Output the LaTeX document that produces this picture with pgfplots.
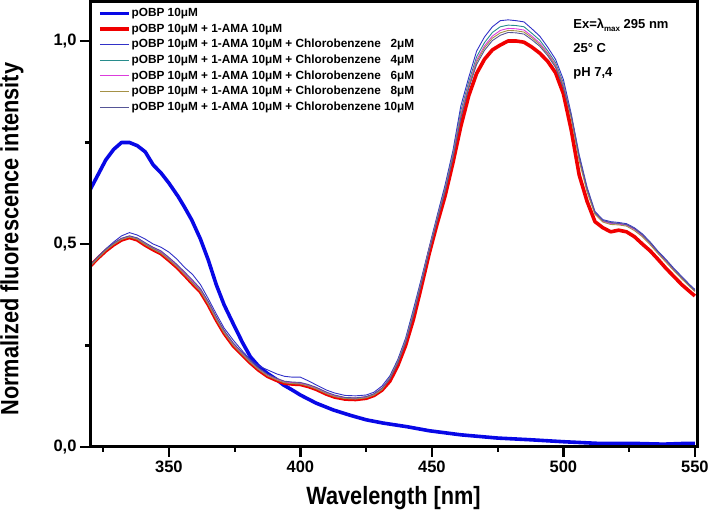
\documentclass[border=0pt]{standalone}
\usepackage{fontspec}
\setmainfont{Liberation Sans}
\usepackage{graphicx}
\usepackage{pgfplots}
\pgfplotsset{compat=1.18}
\usepackage{pgfplotstable}

\definecolor{cPobp}{RGB}{8,8,230}
\definecolor{cAma}{RGB}{240,0,0}
\definecolor{cTwo}{RGB}{50,50,200}
\definecolor{cFour}{RGB}{40,140,140}
\definecolor{cSix}{RGB}{220,60,220}
\definecolor{cEight}{RGB}{165,145,70}
\definecolor{cTen}{RGB}{85,85,150}

% pOBP 10uM alone
\pgfplotstableread{
x y
320 0.633
323 0.670
326 0.707
329 0.733
332 0.750
335 0.750
338 0.742
341 0.727
344 0.695
347 0.675
350 0.650
353.5 0.617
356 0.590
358.7 0.559
362 0.512
365 0.460
368 0.400
371 0.350
374.5 0.303
378 0.257
381 0.222
384 0.200
387.5 0.181
391 0.166
393.5 0.153
397 0.140
400 0.128
406 0.108
412.6 0.091
419 0.078
425 0.067
431.4 0.059
440.5 0.050
449 0.040
461 0.030
475 0.022
487 0.018
500 0.013
513 0.009
526 0.009
538 0.007
547 0.009
550 0.009
}\pobp

% R = + 1-AMA, A..E = + chlorobenzene 2,4,6,8,10 uM
\pgfplotstableread{
x R A B C D E
320 0.445 0.445 0.446 0.447 0.445 0.448
323 0.465 0.468 0.466 0.467 0.465 0.468
326 0.483 0.488 0.485 0.486 0.484 0.487
329 0.498 0.505 0.500 0.501 0.499 0.502
332 0.510 0.520 0.512 0.513 0.511 0.514
335 0.516 0.528 0.518 0.519 0.517 0.520
338 0.510 0.522 0.513 0.514 0.511 0.515
341 0.497 0.512 0.500 0.502 0.498 0.503
344 0.486 0.500 0.489 0.491 0.487 0.492
347 0.476 0.492 0.479 0.481 0.477 0.483
350 0.460 0.480 0.463 0.465 0.461 0.467
353 0.443 0.463 0.446 0.448 0.444 0.450
356 0.423 0.442 0.426 0.428 0.424 0.431
359 0.402 0.425 0.406 0.408 0.403 0.411
362 0.382 0.400 0.385 0.387 0.383 0.390
365 0.350 0.365 0.353 0.355 0.351 0.358
368 0.313 0.328 0.316 0.318 0.314 0.321
371 0.280 0.293 0.283 0.285 0.281 0.287
374.5 0.249 0.263 0.252 0.254 0.250 0.256
378 0.226 0.236 0.228 0.230 0.227 0.232
381 0.207 0.215 0.209 0.210 0.208 0.212
384 0.190 0.200 0.192 0.193 0.191 0.195
387.5 0.174 0.190 0.176 0.177 0.175 0.179
391 0.164 0.180 0.166 0.167 0.165 0.169
394 0.157 0.174 0.159 0.160 0.158 0.162
397 0.155 0.172 0.157 0.158 0.156 0.160
400 0.154 0.172 0.156 0.157 0.155 0.159
403 0.149 0.163 0.151 0.152 0.150 0.154
406 0.142 0.153 0.144 0.145 0.143 0.147
410 0.130 0.140 0.132 0.133 0.131 0.135
413 0.123 0.133 0.125 0.126 0.124 0.128
417 0.118 0.127 0.120 0.121 0.119 0.122
421 0.117 0.126 0.119 0.120 0.118 0.121
425 0.120 0.128 0.122 0.123 0.121 0.124
428 0.127 0.135 0.129 0.130 0.128 0.131
431 0.140 0.150 0.143 0.144 0.141 0.145
434 0.162 0.175 0.172 0.170 0.169 0.167
437 0.200 0.215 0.211 0.209 0.208 0.206
440 0.250 0.268 0.264 0.261 0.259 0.257
443 0.315 0.340 0.334 0.330 0.328 0.325
446 0.395 0.415 0.410 0.407 0.405 0.403
449 0.477 0.493 0.489 0.487 0.485 0.483
452 0.550 0.570 0.565 0.562 0.560 0.558
455 0.618 0.645 0.638 0.634 0.632 0.629
458 0.700 0.730 0.723 0.718 0.715 0.712
461 0.790 0.840 0.828 0.820 0.815 0.810
464 0.865 0.910 0.899 0.892 0.888 0.883
467 0.920 0.975 0.961 0.953 0.948 0.942
470 0.955 1.010 0.996 0.988 0.983 0.977
473 0.978 1.035 1.021 1.012 1.007 1.001
476 0.990 1.050 1.035 1.026 1.020 1.014
479 1.000 1.052 1.039 1.031 1.026 1.021
482 1.000 1.050 1.038 1.030 1.025 1.020
485 0.997 1.047 1.035 1.027 1.022 1.017
488 0.985 1.030 1.019 1.012 1.008 1.003
491 0.970 1.012 1.002 0.995 0.991 0.987
494 0.950 0.985 0.976 0.971 0.968 0.964
497 0.922 0.955 0.947 0.942 0.939 0.935
500 0.870 0.905 0.896 0.891 0.888 0.884
503 0.780 0.820 0.814 0.812 0.808 0.816
506 0.670 0.720 0.713 0.710 0.705 0.715
509 0.605 0.640 0.634 0.632 0.628 0.636
512 0.555 0.580 0.576 0.575 0.573 0.578
515 0.540 0.560 0.557 0.556 0.554 0.558
518 0.530 0.555 0.551 0.550 0.548 0.553
521 0.534 0.553 0.550 0.549 0.547 0.551
524 0.530 0.550 0.547 0.546 0.544 0.548
527 0.518 0.540 0.537 0.536 0.533 0.538
530 0.500 0.525 0.521 0.520 0.518 0.523
533 0.483 0.505 0.502 0.501 0.498 0.503
536 0.462 0.482 0.479 0.478 0.476 0.480
539 0.440 0.462 0.459 0.458 0.455 0.460
542 0.420 0.440 0.437 0.436 0.434 0.438
545 0.400 0.420 0.417 0.416 0.414 0.418
548 0.383 0.400 0.397 0.397 0.395 0.398
550 0.372 0.388 0.385 0.384 0.383 0.386
}\mix

\begin{document}
\begin{tikzpicture}
\begin{axis}[
  name=main,
  scale only axis,
  width=607pt, height=445pt,
  xmin=320, xmax=550.8,
  ymin=0, ymax=1.096,
  xtick={350,400,...,550},
  minor xtick={325,375,...,525},
  ytick={0,0.5,1},
  minor ytick={0.25,0.75},
  xtick pos=bottom, ytick pos=left,
  tick align=outside,
  major tick length=10pt, minor tick length=5pt,
  every tick/.style={black, line width=2.3pt},
  /pgf/number format/assume math mode=true,
  tick label style={font=\fontsize{16.5}{18}\selectfont\bfseries},
  xticklabel style={/pgf/number format/1000 sep={}},
  yticklabel style={/pgf/number format/.cd, fixed, fixed zerofill, precision=1, use comma},
  label style={font=\fontsize{25}{28}\selectfont\bfseries},
  xlabel={\scalebox{0.87}[1]{Wavelength [nm]}},
  ylabel={\scalebox{0.87}[1]{Normalized fluorescence intensity}},
  xlabel style={at={(axis description cs:0.5,-0.115)}, anchor=center},
  ylabel style={at={(axis description cs:-0.1285,0.467)}, anchor=center},
  legend cell align=left,
  legend image code/.code={\draw[#1] (0pt,0pt) -- (29pt,0pt);},
  legend style={draw=none, fill=none, at={(axis description cs:0.008,0.992)}, anchor=north west,
    font=\fontsize{11.8}{13}\selectfont\bfseries, row sep=3.6pt, nodes={inner sep=1pt}},
]
\addplot[cPobp, line width=3.6pt, line join=round] table[x=x, y=y] {\pobp};
\addplot[cAma, line width=3.6pt, line join=round] table[x=x, y=R] {\mix};
\addplot[cTwo, line width=0.9pt] table[x=x, y=A] {\mix};
\addplot[cFour, line width=0.9pt] table[x=x, y=B] {\mix};
\addplot[cSix, line width=0.9pt] table[x=x, y=C] {\mix};
\addplot[cEight, line width=0.9pt] table[x=x, y=D] {\mix};
\addplot[cTen, line width=0.9pt] table[x=x, y=E] {\mix};
\legend{pOBP 10μM,
  pOBP 10μM + 1-AMA 10μM,
  pOBP 10μM + 1-AMA 10μM + Chlorobenzene \phantom{1}2μM,
  pOBP 10μM + 1-AMA 10μM + Chlorobenzene \phantom{1}4μM,
  pOBP 10μM + 1-AMA 10μM + Chlorobenzene \phantom{1}6μM,
  pOBP 10μM + 1-AMA 10μM + Chlorobenzene \phantom{1}8μM,
  pOBP 10μM + 1-AMA 10μM + Chlorobenzene 10μM}
\node[anchor=north west, align=left, inner sep=0pt, font=\fontsize{13}{24}\selectfont\bfseries]
  at (axis description cs:0.796,0.962) {Ex=λ\raisebox{-0.45ex}{\fontsize{8}{9}\selectfont max} 295 nm\\25° C\\pH 7,4};
\end{axis}
% heavier frame round the plot area
\draw[line width=3pt, line cap=rect] (main.south west) rectangle (main.north east);
\pgfresetboundingbox
\path[use as bounding box] ([xshift=-90pt,yshift=-71pt]main.south west) rectangle ([xshift=11pt,yshift=2pt]main.north east);
\end{tikzpicture}
\end{document}
